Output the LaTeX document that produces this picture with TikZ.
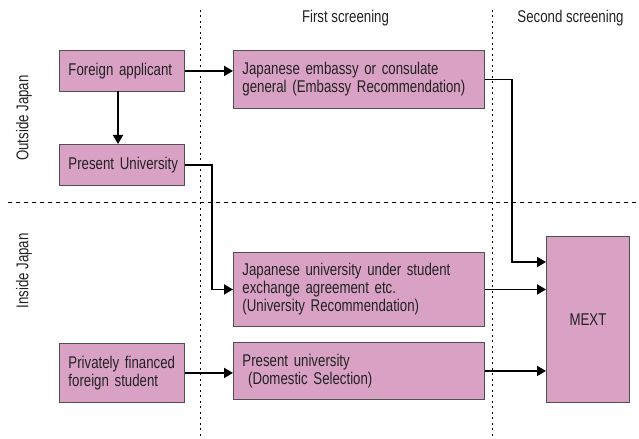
\documentclass[tikz,border=0pt]{standalone}
\usepackage{fontspec}
\setmainfont{Liberation Sans}[FakeStretch=0.78]
\newfontfamily\nar{Liberation Sans}[FakeStretch=0.78]
\usetikzlibrary{arrows.meta}
\definecolor{boxfill}{HTML}{D9A2C5}
\definecolor{boxline}{HTML}{505050}
\definecolor{textc}{HTML}{222222}
\hbadness=10000 \hfuzz=50pt
\begin{document}
\begin{tikzpicture}[x=1bp,y=-1bp,
  box/.style={draw=boxline, fill=boxfill, line width=0.9bp, inner xsep=9bp, inner ysep=0bp,
    anchor=north west, align=left, font=\nar\fontsize{17bp}{18bp}\selectfont, text=textc},
  lbl/.style={font=\nar\fontsize{17bp}{18bp}\selectfont, text=textc},
  conn/.style={line width=1.8bp, -{Triangle[length=9bp,width=10bp]}},
  vsep/.style={line width=0.8bp, dash pattern=on 2bp off 3.5bp},
  hsep/.style={line width=0.8bp, dash pattern=on 4bp off 4bp}]
\useasboundingbox (0,0) rectangle (639,439);
% separators
\coordinate (v1t) at (200,10); \coordinate (v1b) at (200,437);
\coordinate (v2t) at (492,10); \coordinate (v2b) at (492,437);
\coordinate (hl) at (8,202); \coordinate (hr) at (639,202);
\draw[vsep] (v1t) -- (v1b);
\draw[vsep] (v2t) -- (v2b);
\draw[hsep] (hl) -- (hr);
% labels
\node[lbl] (l1) at (345.5,18) {First screening};
\node[lbl] (l2) at (570.5,18) {Second screening};
\node[lbl, rotate=90] (l3) at (24,118) {Outside Japan};
\node[lbl, rotate=90] (l4) at (24,271) {Inside Japan};
% boxes
\node[box, text width=107bp, minimum height=41bp] (fa) at (59,50) {\mbox{Foreign applicant}};
\node[box, text width=107bp, minimum height=41bp] (pu) at (59,144) {\mbox{Present University}};
\node[box, text width=107bp, minimum height=59bp] (pf) at (59,343) {\mbox{Privately financed}\\\mbox{foreign student}};
\node[box, text width=233bp, minimum height=58bp] (emb) at (233,50) {Japanese embassy or consulate\\general (Embassy Recommendation)};
\node[box, text width=233bp, minimum height=74bp] (jue) at (233,252) {Japanese university under student\\exchange agreement etc.\\(University Recommendation)};
\node[box, text width=233bp, minimum height=57bp] (dom) at (233,342) {Present university\\\ (Domestic Selection)};
\node[box, align=center, text width=65bp, minimum height=166bp] (mext) at (546,236) {MEXT};
% connectors
\coordinate (m1) at (0,262);
\coordinate (fas) at (118,91);
\draw[conn] (fa.east) -- (emb.west |- fa.east);
\draw[conn] (fas) -- (pu.north -| fas);
\draw[conn] (pu.east) -- ++(27,0) |- (jue.west);
\draw[conn] (emb.east) -- ++(27,0) |- (mext.west |- m1);
\draw[conn] (jue.east) -- (mext.west |- jue.east);
\draw[conn] (dom.east) -- (mext.west |- dom.east);
\draw[conn] (pf.east) -- (dom.west |- pf.east);
\end{tikzpicture}
\end{document}
